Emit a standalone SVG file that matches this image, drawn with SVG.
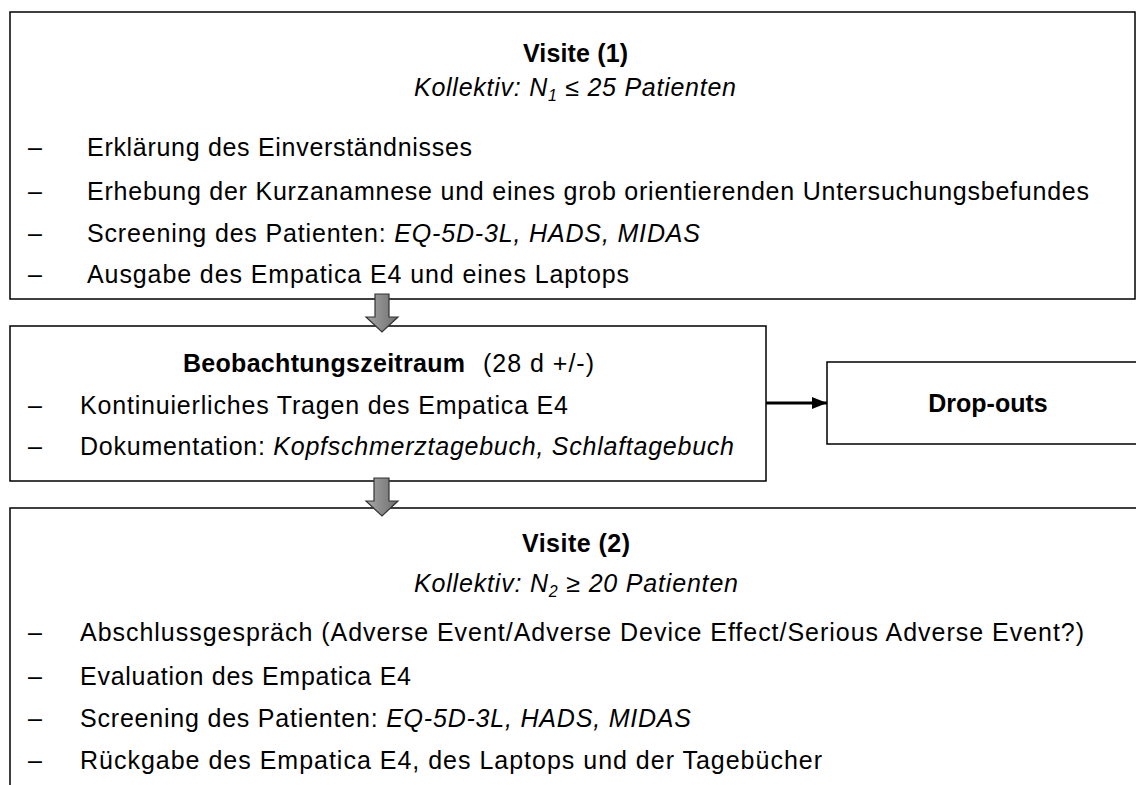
<svg xmlns="http://www.w3.org/2000/svg" width="1136" height="785" viewBox="0 0 1136 785">
<style>
text{font-family:"Liberation Sans",Arial,sans-serif;font-size:25px;fill:#000}
.b{font-weight:bold}
.i{font-style:italic}
.c{text-anchor:middle}
.box{fill:#fff;stroke:#000;stroke-width:1.5}
.blk{fill:url(#g);stroke:#333;stroke-width:1.2}
</style>
<defs>
<linearGradient id="g" x1="0" y1="0" x2="1" y2="0">
<stop offset="0" stop-color="#a8a8a8"/><stop offset="0.5" stop-color="#8a8a8a"/><stop offset="1" stop-color="#6f6f6f"/>
</linearGradient>
<marker id="ah" markerWidth="15" markerHeight="12" refX="15" refY="6" orient="auto" markerUnits="userSpaceOnUse" viewBox="0 0 15 12">
<path d="M0,0 L15,6 L0,12 z" fill="#000"/>
</marker>
</defs>
<g id="visite1">
<rect class="box" x="10" y="12" width="1125" height="287"/>
<text class="b" x="523" y="62" textLength="105" lengthAdjust="spacing">Visite (1)</text>
<text class="i" x="414" y="96" textLength="322" lengthAdjust="spacing">Kollektiv: N<tspan font-size="16" dy="5">1</tspan><tspan dy="-5"> ≤ 25 Patienten</tspan></text>
<text x="28" y="156">–</text><text x="87" y="156" textLength="385" lengthAdjust="spacing">Erklärung des Einverständnisses</text>
<text x="28" y="200">–</text><text x="87" y="200" textLength="1002" lengthAdjust="spacing">Erhebung der Kurzanamnese und eines grob orientierenden Untersuchungsbefundes</text>
<text x="28" y="242">–</text><text x="87" y="242" textLength="613" lengthAdjust="spacing">Screening des Patienten: <tspan class="i">EQ-5D-3L, HADS, MIDAS</tspan></text>
<text x="28" y="283">–</text><text x="87" y="283" textLength="542" lengthAdjust="spacing">Ausgabe des Empatica E4 und eines Laptops</text>
</g>
<g id="beobachtung">
<rect class="box" x="10" y="326" width="756" height="155"/>
<text class="b" x="183" y="372" textLength="282" lengthAdjust="spacing">Beobachtungszeitraum</text>
<text x="483" y="372" textLength="111" lengthAdjust="spacing">(28 d +/-)</text>
<text x="28" y="414">–</text><text x="80" y="414" textLength="488" lengthAdjust="spacing">Kontinuierliches Tragen des Empatica E4</text>
<text x="28" y="455">–</text><text x="80" y="455" textLength="654" lengthAdjust="spacing">Dokumentation: <tspan class="i">Kopfschmerztagebuch,  Schlaftagebuch</tspan></text>
</g>
<g id="dropouts">
<rect class="box" x="827" y="362" width="330" height="82"/>
<text class="b c" x="988" y="412">Drop-outs</text>
</g>
<g id="visite2">
<rect class="box" x="10" y="508" width="1140" height="300"/>
<text class="b" x="522" y="552" textLength="108" lengthAdjust="spacing">Visite (2)</text>
<text class="i" x="414" y="592" textLength="324" lengthAdjust="spacing">Kollektiv: N<tspan font-size="16" dy="5">2</tspan><tspan dy="-5"> ≥ 20 Patienten</tspan></text>
<text x="28" y="641">–</text><text x="80" y="641" textLength="1004" lengthAdjust="spacing">Abschlussgespräch (Adverse Event/Adverse Device Effect/Serious Adverse Event?)</text>
<text x="28" y="685">–</text><text x="80" y="685" textLength="331" lengthAdjust="spacing">Evaluation des Empatica E4</text>
<text x="28" y="727">–</text><text x="80" y="727" textLength="611" lengthAdjust="spacing">Screening des Patienten: <tspan class="i">EQ-5D-3L, HADS, MIDAS</tspan></text>
<text x="28" y="769">–</text><text x="80" y="769" textLength="742" lengthAdjust="spacing">Rückgabe des Empatica E4, des Laptops und der Tagebücher</text>
</g>
<g id="connectors">
<polygon class="blk" points="375,294 389,294 389,317 398,317 382,332 366,317 375,317"/>
<polygon class="blk" points="374,478 389,478 389,501 398,501 382,516 366,501 374,501"/>
<line x1="766" y1="403" x2="827" y2="403" stroke="#000" stroke-width="3" marker-end="url(#ah)"/>
</g>
</svg>
